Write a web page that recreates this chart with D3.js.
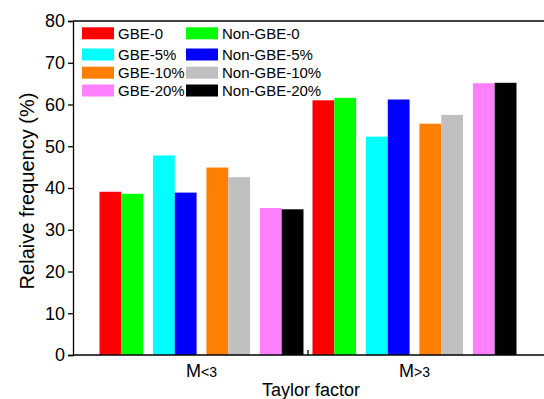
<!DOCTYPE html>
<html>
<head>
<meta charset="utf-8">
<script src="https://cdn.jsdelivr.net/npm/d3@7"></script>
<style>
  body { margin: 0; background: #fff; }
  svg { display: block; font-family: Arial, "Liberation Sans", sans-serif; }
</style>
</head>
<body>
<div id="chart"></div>
<script>
// data
const categories = ['M<3', 'M>3'];
const levels = ['0', '5%', '10%', '20%'];
const gbeValues = [[39.1, 47.8, 44.9, 35.2], [61.0, 52.3, 55.4, 65.1]];
const nonGbeValues = [[38.6, 38.9, 42.6, 34.9], [61.6, 61.2, 57.5, 65.2]];
const gbeColors = ['#ff0000', '#00ffff', '#ff8000', '#ff80ff'];
const nonGbeColors = ['#00ff00', '#0000ff', '#c0c0c0', '#000000'];
const yTicks = [0, 10, 20, 30, 40, 50, 60, 70, 80];

const width = 544;
const height = 399;
const plotLeft = 73, plotRight = 560, plotTop = 21, plotBottom = 355;

const svg = d3.select('#chart')
  .append('svg')
  .attr('width', width)
  .attr('height', height);

const x0 = d3.scaleBand().domain(categories).range([95, 521]);
const x1 = d3.scaleBand().domain(levels).range([4.5, x0.bandwidth() - 4.5]).paddingInner(0.184);
const x2 = d3.scaleBand().domain(['gbe', 'non']).range([0, x1.bandwidth()]);
const y = d3.scaleLinear().domain([0, 80]).range([plotBottom, plotTop]);

// bars
categories.forEach(function (cat, ci) {
  const g = svg.append('g').attr('transform', 'translate(' + x0(cat) + ',0)');
  levels.forEach(function (lv, li) {
    const pairs = [
      { k: 'gbe', v: gbeValues[ci][li], c: gbeColors[li] },
      { k: 'non', v: nonGbeValues[ci][li], c: nonGbeColors[li] }
    ];
    g.selectAll(null).data(pairs).enter().append('rect')
      .attr('x', d => x1(lv) + x2(d.k))
      .attr('y', d => y(d.v))
      .attr('width', x2.bandwidth())
      .attr('height', d => y(0) - y(d.v))
      .attr('fill', d => d.c);
  });
});

// frame
svg.append('path')
  .attr('d', 'M' + plotLeft + ',' + plotTop + 'H' + plotRight)
  .attr('stroke', '#000').attr('stroke-width', 1.3).attr('fill', 'none');

// y axis
const yAxis = d3.axisLeft(y).tickValues(yTicks).tickSize(5).tickPadding(3);
const ay = svg.append('g')
  .attr('transform', 'translate(' + plotLeft + ',0)')
  .call(yAxis);
ay.select('.domain').attr('stroke-width', 1.3);
ay.selectAll('.tick line').attr('stroke-width', 1.3);
ay.selectAll('.tick text').attr('font-size', '18px').attr('fill', '#000').attr('font-family', 'Arial, "Liberation Sans", sans-serif');

// x axis
const ax = svg.append('g').attr('transform', 'translate(0,' + plotBottom + ')');
ax.append('path')
  .attr('d', 'M' + plotLeft + ',0H' + plotRight)
  .attr('stroke', '#000').attr('stroke-width', 1.3);
ax.append('line')
  .attr('x1', x0('M>3')).attr('x2', x0('M>3'))
  .attr('y1', 0).attr('y2', -5)
  .attr('stroke', '#000').attr('stroke-width', 1.3);

const catLabel = ax.selectAll('text.cat').data(categories).enter().append('text')
  .attr('class', 'cat')
  .attr('x', d => x0(d) + x0.bandwidth() / 2)
  .attr('y', 22)
  .attr('text-anchor', 'middle')
  .attr('font-size', '18px');
catLabel.append('tspan').text(d => d.slice(0, 1));
catLabel.append('tspan').attr('font-size', '14px').text(d => d.slice(1));

// axis titles
svg.append('text')
  .attr('x', (plotLeft + 549) / 2)
  .attr('y', 396)
  .attr('text-anchor', 'middle')
  .attr('font-size', '18px')
  .text('Taylor factor');

svg.append('text')
  .attr('transform', 'translate(34,' + ((plotTop + plotBottom) / 2 + 3) + ') rotate(-90)')
  .attr('text-anchor', 'middle')
  .attr('font-size', '20px')
  .text('Relaive frequency (%)');

// legend
const legendRows = [33.3, 54.5, 72.7, 90.5];
const legendItems = [];
levels.forEach(function (lv, i) {
  legendItems.push({ label: 'GBE-' + lv, color: gbeColors[i], col: 0, row: i });
  legendItems.push({ label: 'Non-GBE-' + lv, color: nonGbeColors[i], col: 1, row: i });
});
const legendCols = [82, 186];
const lg = svg.append('g').selectAll('g').data(legendItems).enter().append('g')
  .attr('transform', d => 'translate(' + legendCols[d.col] + ',' + legendRows[d.row] + ')');
lg.append('rect')
  .attr('x', 0).attr('y', -6)
  .attr('width', 32).attr('height', 12)
  .attr('fill', d => d.color);
lg.append('text')
  .attr('x', 36).attr('y', 5.5)
  .attr('font-size', '15px')
  .text(d => d.label);
</script>
</body>
</html>
